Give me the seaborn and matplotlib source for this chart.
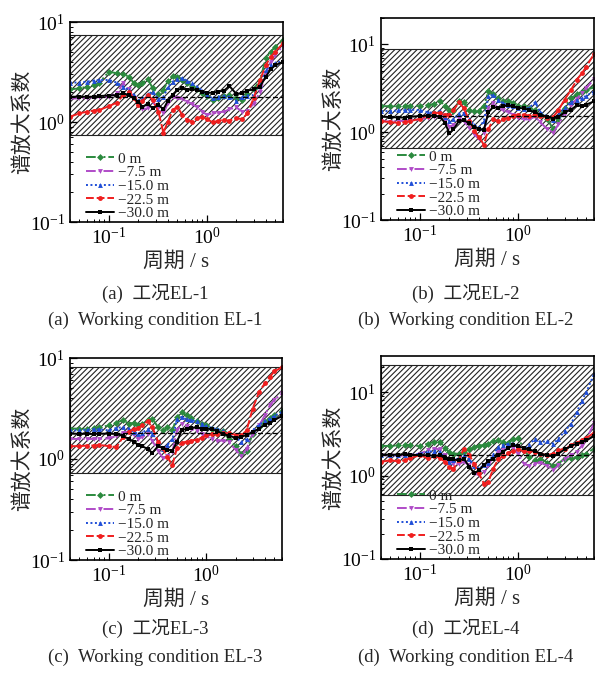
import pandas as pd
import matplotlib
matplotlib.use('Agg')
import matplotlib.pyplot as plt
import seaborn as sns

sns.set_style('ticks')
plt.rcParams['font.family'] = ['Liberation Serif', 'Noto Sans CJK SC']
plt.rcParams['mathtext.fontset'] = 'stix'
plt.rcParams['hatch.linewidth'] = 0.8
plt.rcParams['axes.unicode_minus'] = True

# period axis (s), shared by all panels
periods = [0.04, 0.05, 0.06, 0.07, 0.08, 0.1, 0.12, 0.14, 0.16, 0.18, 0.2, 0.22, 0.25, 0.28,
           0.32, 0.36, 0.4, 0.45, 0.5, 0.56, 0.63, 0.7, 0.8, 0.9, 1.0, 1.15, 1.3, 1.5, 1.7,
           2.0, 2.3, 2.6, 3.0, 3.5, 4.0, 4.5, 5.0, 6.0]

depths = ['0 m', '\u22127.5 m', '\u221215.0 m', '\u221222.5 m', '\u221230.0 m']

# --- EL-1 ---
el1_0 = [2.12, 2.17, 2.26, 2.34, 2.48, 3.19, 3.07, 3.02, 2.84, 2.44, 2.34, 2.48, 2.68, 2.17, 1.89, 2.09, 2.59, 2.89, 2.84,
         2.63, 2.48, 2.30, 2.12, 1.96, 1.82, 1.66, 1.72, 1.82, 1.86, 1.72, 1.66, 1.92, 2.12, 2.63, 4.33, 5.05, 5.67, 6.6]
el1_75 = [1.72, 1.72, 1.75, 1.76, 1.76, 1.79, 1.94, 2.44, 2.12, 1.72, 1.48, 1.34, 1.37, 1.60, 1.37, 1.22, 1.54, 1.79, 1.72,
          1.69, 1.60, 1.52, 1.40, 1.27, 1.18, 1.22, 1.24, 1.27, 1.34, 1.40, 1.27, 1.30, 1.52, 2.01, 3.07, 4.01, 4.68, 5.8]
el1_15 = [2.48, 2.48, 2.54, 2.59, 2.63, 2.63, 2.48, 2.26, 2.09, 1.86, 1.63, 1.72, 1.90, 2.01, 1.69, 1.79, 2.22, 2.54, 2.68,
          2.74, 2.59, 2.44, 2.26, 2.06, 1.86, 1.72, 1.79, 1.82, 1.79, 1.63, 1.76, 1.84, 1.86, 2.34, 3.31, 3.70, 3.86, 4.1]
el1_225 = [1.13, 1.22, 1.27, 1.30, 1.32, 1.44, 1.56, 1.86, 2.01, 1.72, 1.48, 1.63, 1.86, 1.66, 1.27, 0.78, 1.01, 1.32, 1.42,
           1.18, 1.05, 1.01, 1.09, 1.12, 1.07, 0.99, 1.03, 1.05, 1.03, 1.09, 1.07, 1.22, 1.72, 2.63, 3.70, 4.50, 5.05, 6.1]
el1_30 = [1.79, 1.79, 1.79, 1.79, 1.82, 1.84, 1.86, 1.94, 1.86, 1.72, 1.60, 1.42, 1.51, 1.37, 1.48, 1.34, 1.63, 1.86, 2.09,
          2.17, 2.09, 2.12, 2.09, 2.01, 1.96, 1.96, 2.01, 2.06, 2.29, 1.91, 1.96, 2.06, 2.12, 2.26, 2.84, 3.36, 3.70, 4.0]

# --- EL-2 ---
el2_0 = [1.98, 1.98, 1.98, 2.00, 2.00, 2.00, 2.02, 2.11, 2.28, 1.98, 1.81, 1.74, 2.24, 2.20, 1.81, 1.74, 1.76, 1.98, 2.92,
         2.72, 2.45, 2.26, 2.26, 2.15, 2.00, 1.98, 1.89, 1.77, 1.62, 1.40, 1.09, 1.40, 1.89, 2.45, 2.69, 2.88, 3.04, 3.24]
el2_75 = [1.34, 1.32, 1.34, 1.34, 1.36, 1.40, 1.45, 1.50, 1.50, 1.38, 1.16, 1.20, 1.43, 1.34, 1.13, 0.95, 0.83, 0.97, 1.89,
          2.13, 1.89, 1.78, 1.69, 1.59, 1.46, 1.40, 1.40, 1.50, 1.30, 1.08, 0.99, 1.23, 1.63, 2.06, 2.40, 2.79, 3.18, 4.01]
el2_15 = [1.74, 1.74, 1.77, 1.78, 1.81, 1.78, 1.69, 1.66, 1.74, 1.50, 1.34, 1.40, 1.63, 1.66, 1.40, 1.20, 1.13, 1.34, 2.56,
          2.67, 2.35, 2.15, 2.06, 1.98, 1.89, 1.85, 1.89, 2.19, 1.69, 1.50, 1.38, 1.56, 1.89, 2.19, 2.31, 2.45, 2.60, 2.9]
el2_225 = [1.34, 1.30, 1.28, 1.30, 1.34, 1.42, 1.55, 1.66, 1.66, 1.59, 1.59, 1.78, 2.19, 1.89, 1.34, 1.03, 0.88, 0.72, 1.08,
           1.40, 1.34, 1.40, 1.46, 1.55, 1.59, 1.58, 1.55, 1.58, 1.55, 1.46, 1.50, 1.78, 2.35, 3.04, 3.94, 4.68, 5.56, 7.8]
el2_30 = [1.50, 1.49, 1.47, 1.47, 1.50, 1.53, 1.55, 1.55, 1.50, 1.28, 0.97, 1.08, 1.34, 1.38, 1.26, 1.16, 1.10, 1.06, 1.68,
          1.93, 1.89, 1.98, 2.02, 1.98, 1.89, 1.87, 1.79, 1.68, 1.59, 1.50, 1.43, 1.50, 1.68, 1.81, 2.02, 1.98, 2.06, 2.25]

# --- EL-3 ---
el3_0 = [2.00, 2.00, 2.00, 2.03, 2.06, 2.15, 2.29, 2.42, 2.24, 2.29, 2.19, 2.24, 2.42, 2.51, 2.07, 1.92, 2.07, 1.92, 2.61,
         2.89, 2.71, 2.56, 2.40, 2.24, 2.15, 2.00, 1.92, 1.88, 1.58, 1.34, 1.12, 1.21, 1.78, 2.07, 2.33, 2.56, 2.71, 2.97]
el3_75 = [1.58, 1.58, 1.58, 1.58, 1.58, 1.60, 1.68, 1.82, 1.88, 1.74, 1.58, 1.65, 1.77, 1.52, 1.21, 1.02, 1.06, 1.17, 1.92,
          2.24, 2.13, 2.00, 1.88, 1.78, 1.68, 1.58, 1.52, 1.52, 1.47, 1.24, 1.06, 1.26, 1.78, 2.15, 2.71, 3.41, 3.83, 4.47]
el3_15 = [1.92, 1.92, 1.95, 1.97, 1.97, 1.92, 2.03, 2.07, 2.00, 1.85, 1.78, 1.82, 1.97, 1.78, 1.49, 1.27, 1.38, 1.56, 2.47,
          2.61, 2.47, 2.42, 2.37, 2.24, 2.12, 2.03, 1.97, 1.91, 1.78, 1.65, 1.47, 1.58, 1.92, 2.19, 2.37, 2.51, 2.67, 2.93]
el3_225 = [1.34, 1.34, 1.36, 1.36, 1.38, 1.34, 1.31, 1.65, 1.87, 1.97, 2.02, 2.15, 2.36, 2.07, 1.49, 1.28, 1.04, 0.87, 1.28,
           1.44, 1.49, 1.52, 1.55, 1.63, 1.71, 1.77, 1.78, 1.82, 1.79, 1.74, 1.71, 1.92, 3.16, 4.64, 5.62, 6.5, 7.36, 8.1]
el3_30 = [1.78, 1.78, 1.77, 1.77, 1.78, 1.78, 1.77, 1.69, 1.58, 1.49, 1.38, 1.34, 1.26, 1.15, 1.34, 1.28, 1.24, 1.21, 1.47,
          1.92, 2.00, 2.03, 2.07, 2.00, 2.00, 1.97, 1.88, 1.78, 1.69, 1.63, 1.65, 1.74, 1.85, 2.00, 2.19, 2.29, 2.42, 2.67]

# --- EL-4 ---
el4_0 = [2.26, 2.26, 2.30, 2.32, 2.32, 2.26, 2.41, 2.52, 2.55, 2.14, 1.89, 1.83, 1.83, 1.91, 2.05, 2.19, 2.26, 2.34, 2.41,
         2.57, 2.63, 2.52, 2.47, 2.71, 2.81, 2.10, 1.67, 1.52, 1.59, 1.43, 1.31, 1.39, 1.59, 1.62, 1.67, 1.75, 1.83, 2.10]
el4_75 = [1.75, 1.75, 1.72, 1.75, 1.75, 1.83, 2.00, 2.10, 2.06, 1.75, 1.52, 1.39, 1.36, 1.46, 1.33, 1.06, 1.01, 1.09, 1.33,
          1.67, 1.91, 2.00, 2.19, 2.14, 1.83, 1.39, 1.31, 1.36, 1.43, 1.31, 1.16, 1.33, 1.59, 1.75, 1.91, 2.26, 2.71, 4.2]
el4_15 = [1.75, 1.75, 1.75, 1.75, 1.75, 1.83, 1.91, 1.99, 1.91, 1.62, 1.46, 1.52, 1.62, 1.75, 1.57, 1.31, 1.21, 1.33, 1.43,
          1.78, 2.19, 2.30, 2.39, 2.41, 2.19, 2.00, 2.34, 2.76, 2.52, 2.57, 2.41, 2.76, 3.37, 4.16, 5.73, 7.89, 9.9, 16.4]
el4_225 = [1.46, 1.52, 1.48, 1.52, 1.62, 1.75, 1.62, 1.72, 1.62, 1.46, 1.27, 1.21, 1.52, 2.10, 1.75, 1.36, 1.06, 0.80, 0.84,
           1.21, 1.56, 1.71, 1.87, 1.95, 2.06, 1.95, 1.99, 1.91, 1.83, 1.75, 1.83, 2.00, 2.10, 2.30, 2.47, 2.63, 2.81, 3.25]
el4_30 = [1.78, 1.78, 1.78, 1.80, 1.78, 1.75, 1.75, 1.72, 1.75, 1.62, 1.59, 1.56, 1.52, 1.59, 1.27, 1.06, 1.16, 1.33, 1.49,
          1.59, 1.75, 1.91, 2.14, 2.30, 2.24, 2.14, 2.05, 1.95, 1.83, 1.75, 1.69, 1.83, 2.05, 2.26, 2.41, 2.52, 2.63, 2.96]

# hatched range (lower, upper) and mean line of each case
el1_band = (0.74, 7.4)
el2_band = (0.66, 8.8)
el3_band = (0.72, 8.1)
el4_band = (0.59, 21.0)
el_means = [1.78, 1.52, 1.80, 1.78]
el_ytops = [10, 20, 10, 27]

COLORS = ['#2b8a3e', '#b04cc8', '#1f4ed8', '#f01e1e', '#000000']
LINESTYLES = [(0, (5, 1.5, 1, 1.5, 1, 1.5)), (0, (5, 1.5, 1, 1.5)), (0, (1, 1.3)), (0, (4, 1.5)), '-']
MARKERS = ['D', 'v', '^', 'o', 's']

CJK = ['Liberation Serif', 'Noto Sans CJK SC']


def draw_panel(ax, series, band, mean, ytop):
    ax.set_xscale('log')
    ax.set_yscale('log')
    ax.axhspan(band[0], band[1], facecolor='white', edgecolor='#222222', hatch='//////', lw=0.8, zorder=0)
    for name, vals, col, ls, mk in zip(depths, series, COLORS, LINESTYLES, MARKERS):
        df = pd.DataFrame({'period': periods, 'value': vals})
        sns.lineplot(data=df, x='period', y='value', ax=ax, color=col, linestyle=ls, marker=mk,
                     markersize=3.5, markeredgewidth=0, lw=1.4, label=name, estimator=None, sort=False)
    ax.axhline(mean, color='black', ls=(0, (4, 2)), lw=0.9, zorder=3)
    ax.set_xlim(0.04, 6)
    ax.set_ylim(0.1, ytop)
    for s in ax.spines.values():
        s.set_color('black')
        s.set_linewidth(1.2)
    ax.tick_params(which='both', direction='in', top=False, right=False, colors='black', labelsize=14)
    ax.tick_params(which='major', length=5, width=0.9)
    ax.tick_params(which='minor', length=2.5, width=0.7)
    ax.set_xlabel('周期 / s', fontsize=15, family=CJK, labelpad=3)
    ax.set_ylabel('谱放大系数', fontsize=15, family='Noto Sans CJK SC')
    ax.yaxis.set_label_coords(-0.175, 0.5)
    ax.legend(loc='lower left', bbox_to_anchor=(0.07, 0.0), frameon=False, fontsize=11,
              handlelength=1.8, handletextpad=0.25, labelspacing=0.0, borderpad=0.1, borderaxespad=0)


fig = plt.figure(figsize=(5.97, 6.77), dpi=100)
ax_a = fig.add_axes([70 / 597, 455 / 677, 213 / 597, 200 / 677])
ax_b = fig.add_axes([381 / 597, 457 / 677, 213 / 597, 202 / 677])
ax_c = fig.add_axes([70 / 597, 117 / 677, 212 / 597, 202 / 677])
ax_d = fig.add_axes([381 / 597, 118 / 677, 213 / 597, 203 / 677])

draw_panel(ax_a, [el1_0, el1_75, el1_15, el1_225, el1_30], el1_band, el_means[0], el_ytops[0])
draw_panel(ax_b, [el2_0, el2_75, el2_15, el2_225, el2_30], el2_band, el_means[1], el_ytops[1])
draw_panel(ax_c, [el3_0, el3_75, el3_15, el3_225, el3_30], el3_band, el_means[2], el_ytops[2])
draw_panel(ax_d, [el4_0, el4_75, el4_15, el4_225, el4_30], el4_band, el_means[3], el_ytops[3])

# captions
cap = dict(ha='center', va='center', fontsize=13.5)
fig.text(155 / 597, 1 - 293 / 677, '(a)  工况EL-1', family=CJK, **cap)
fig.text(466 / 597, 1 - 293 / 677, '(b)  工况EL-2', family=CJK, **cap)
fig.text(155 / 597, 1 - 320 / 677, '(a)  Working condition EL-1', **cap)
fig.text(466 / 597, 1 - 320 / 677, '(b)  Working condition EL-2', **cap)
fig.text(155 / 597, 1 - 628 / 677, '(c)  工况EL-3', family=CJK, **cap)
fig.text(466 / 597, 1 - 628 / 677, '(d)  工况EL-4', family=CJK, **cap)
fig.text(155 / 597, 1 - 657 / 677, '(c)  Working condition EL-3', **cap)
fig.text(466 / 597, 1 - 657 / 677, '(d)  Working condition EL-4', **cap)

fig.savefig('out.png', dpi=100)
